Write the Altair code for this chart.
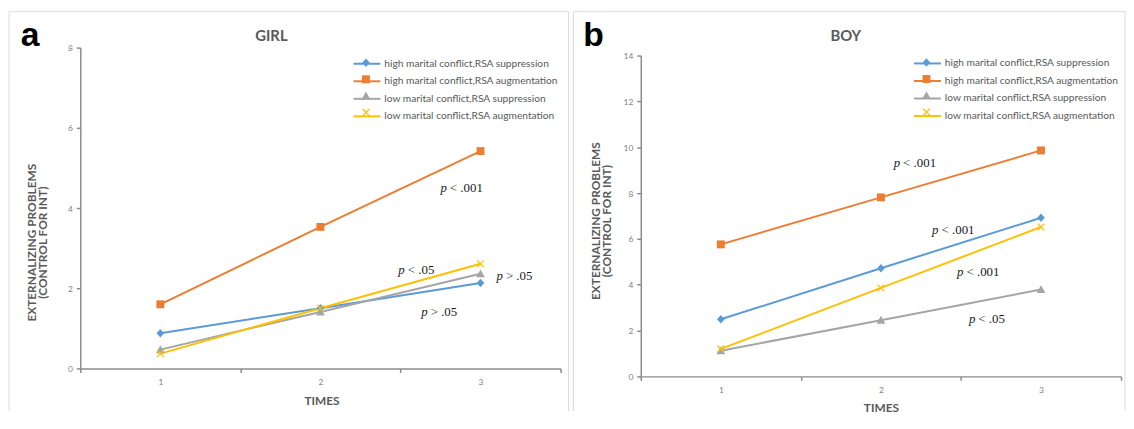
import altair as alt
import pandas as pd

# ---------------- data ----------------
times = [1, 2, 3]
series = [
    "high marital conflict,RSA suppression",
    "high marital conflict,RSA augmentation",
    "low marital conflict,RSA suppression",
    "low marital conflict,RSA augmentation",
]
colors = ["#5B9BD5", "#ED7D31", "#A5A5A5", "#FFC000"]

girl_high_supp = [0.88, 1.50, 2.13]
girl_high_aug = [1.60, 3.53, 5.42]
girl_low_supp = [0.47, 1.41, 2.36]
girl_low_aug = [0.37, 1.50, 2.61]

boy_high_supp = [2.49, 4.72, 6.92]
boy_high_aug = [5.76, 7.81, 9.86]
boy_low_supp = [1.12, 2.45, 3.79]
boy_low_aug = [1.20, 3.86, 6.52]

girl_ann_text = ["< .001", "< .05", "> .05", "> .05"]
girl_ann_x = [2.79, 2.527, 3.14, 2.67]
girl_ann_y = [4.50, 2.46, 2.30, 1.40]

boy_ann_text = ["< .001", "< .001", "< .001", "< .05"]
boy_ann_x = [2.12, 2.36, 2.516, 2.59]
boy_ann_y = [9.32, 6.37, 4.57, 2.52]

# marker shapes (unit coordinates, drawn at size 289 -> 8.5 px per unit)
shapes = [
    "M0,-0.5L0.45,0L0,0.5L-0.45,0Z",
    "M-0.47,-0.47H0.47V0.47H-0.47Z",
    "M0,-0.52L0.52,0.42L-0.52,0.42Z",
    "M-0.45,-0.35L-0.35,-0.45L0,-0.1L0.35,-0.45L0.45,-0.35L0.1,0L0.45,0.35"
    "L0.35,0.45L0,0.1L-0.35,0.45L-0.45,0.35L-0.1,0Z",
]

W = 485
AX = "#8c8c8c"
TXT = "#595959"
FONT = "Lato"


def make_panel(vals, ann_text, ann_x, ann_y, ymax, height, yrange, ttl, ttl_x, ttl_y,
               letter, letter_x, letter_y, fr, ytx, yty, xtx, xty, leg_y):
    rows = []
    for s, v in zip(series, vals):
        for t, val in zip(times, v):
            rows.append({"time": t, "value": val, "series": s})
    df = pd.DataFrame(rows)
    ann = pd.DataFrame({"x": ann_x, "y": ann_y, "txt": ann_text})

    xaxis = alt.Axis(
        values=[0.5, 1, 1.5, 2, 2.5, 3, 3.5],
        labelExpr="datum.value % 1 === 0 ? format(datum.value, 'd') : ''",
        tickOpacity={"condition": {"test": "datum.value % 1 === 0", "value": 0}, "value": 1},
        tickSize=4, tickColor=AX, tickWidth=1.5, domainColor=AX, domainWidth=1.5,
        labelColor="#7f7f7f", labelFont=FONT, labelFontSize=8.5, labelPadding=5,
        labelOverlap=False, labelFlush=False, grid=False,
        title="TIMES", titleFont=FONT, titleFontSize=12, titleFontWeight="bold",
        titleColor=TXT, titleX=xtx, titleY=xty, titleBaseline="middle", titleAlign="center",
    )
    yaxis = alt.Axis(
        values=list(range(0, ymax + 1, 2)),
        tickSize=4, tickColor=AX, tickWidth=1.5, domainColor=AX, domainWidth=1.5,
        labelColor="#7f7f7f", labelFont=FONT, labelFontSize=8.5, labelPadding=4,
        grid=False,
        title=["EXTERNALIZING PROBLEMS", "(CONTROL FOR INT)"],
        titleFont=FONT, titleFontSize=12, titleFontWeight="bold", titleColor=TXT,
        titleX=ytx, titleY=yty, titleBaseline="middle", titleAlign="center",
        titleLineHeight=11,
    )
    x = alt.X("time:Q", scale=alt.Scale(domain=[0.5, 3.5], nice=False, zero=False), axis=xaxis)
    y = alt.Y("value:Q", scale=alt.Scale(domain=[0, ymax], nice=False, range=yrange), axis=yaxis)
    cscale = alt.Scale(domain=series, range=colors)

    line_legend = alt.Legend(
        title=None, orient="none", legendX=280, legendY=leg_y, padding=0, rowPadding=2.7,
        symbolType="M-1.6,0H1.6", symbolSize=289, symbolStrokeWidth=2,
        labelFont=FONT, labelFontSize=10.3, labelColor=TXT, labelOffset=8, labelLimit=300,
    )
    pt_legend = alt.Legend(
        title=None, orient="none", legendX=280, legendY=leg_y, padding=0, rowPadding=2.7,
        symbolSize=289, symbolStrokeWidth=0,
        labelFont=FONT, labelFontSize=10.3, labelColor=TXT, labelOffset=8, labelLimit=300,
        labelExpr="''",
    )

    lines = alt.Chart(df).mark_line(strokeWidth=2).encode(
        x=x, y=y,
        color=alt.Color("series:N", scale=cscale, sort=series, legend=line_legend),
    )
    points = alt.Chart(df).mark_point(filled=True, size=289, opacity=1, strokeWidth=0).encode(
        x=x, y=y,
        color=alt.Color("series:N", scale=cscale, sort=series, legend=pt_legend),
        shape=alt.Shape("series:N", scale=alt.Scale(domain=series, range=shapes),
                        sort=series, legend=pt_legend),
    )
    ann_p = alt.Chart(ann).mark_text(
        text="p", font="Liberation Serif", fontSize=13, fontStyle="italic",
        align="right", baseline="middle", color="#1a1a1a",
    ).encode(x=alt.X("x:Q"), y=alt.Y("y:Q"))
    ann_rest = alt.Chart(ann).mark_text(
        font="Liberation Serif", fontSize=13, align="left", baseline="middle",
        dx=3, color="#1a1a1a",
    ).encode(x=alt.X("x:Q"), y=alt.Y("y:Q"), text="txt:N")

    lab = alt.Chart(pd.DataFrame({"t": [letter]})).mark_text(
        font="Liberation Sans", fontSize=34, fontWeight="bold", color="#000000",
        align="left", baseline="alphabetic",
    ).encode(text="t:N", x=alt.value(letter_x), y=alt.value(letter_y))

    ttl_mark = alt.Chart(pd.DataFrame({"t": [ttl]})).mark_text(
        font=FONT, fontSize=15, fontWeight="bold", color=TXT,
        align="center", baseline="alphabetic",
    ).encode(text="t:N", x=alt.value(ttl_x), y=alt.value(ttl_y))

    one = pd.DataFrame({"k": [0]})
    fl, fr_, ft, fb = fr
    frame_l = alt.Chart(one).mark_rule(color="#dcdcdc", strokeWidth=1).encode(
        x=alt.value(fl), y=alt.value(ft), y2=alt.value(fb))
    frame_r = alt.Chart(one).mark_rule(color="#dcdcdc", strokeWidth=1).encode(
        x=alt.value(fr_), y=alt.value(ft), y2=alt.value(fb))
    frame_t = alt.Chart(one).mark_rule(color="#dcdcdc", strokeWidth=1).encode(
        x=alt.value(fl), x2=alt.value(fr_), y=alt.value(ft))

    return alt.layer(
        frame_l, frame_r, frame_t, lines, points, ann_p, ann_rest, lab, ttl_mark
    ).properties(width=W, height=height).resolve_scale(color="independent", shape="independent")


girl = make_panel(
    [girl_high_supp, girl_high_aug, girl_low_supp, girl_low_aug],
    girl_ann_text, girl_ann_x, girl_ann_y, 8, 316, [316, -8], "GIRL", 193, -14.7,
    "a", -60, -9.7, (-72, 493, -44.3, 359), -49, 188.5, 243.6, 32.7, -1.2,
)
boy = make_panel(
    [boy_high_supp, boy_high_aug, boy_low_supp, boy_low_aug],
    boy_ann_text, boy_ann_x, boy_ann_y, 14, 324, [324, 0], "BOY", 207, -15,
    "b", -58, -10, (-68, 489, -44.3, 359), -46, 166.7, 242.5, 31.6, -1.5,
)

chart = alt.hconcat(girl, boy, spacing=3, bounds="full").resolve_scale(
    color="independent", shape="independent", x="independent", y="independent"
).properties(
    padding={"left": 0, "top": 1, "right": 0, "bottom": 0},
).configure_view(stroke=None)

chart.save("out.html", embed_options={"renderer": "svg", "actions": False})
